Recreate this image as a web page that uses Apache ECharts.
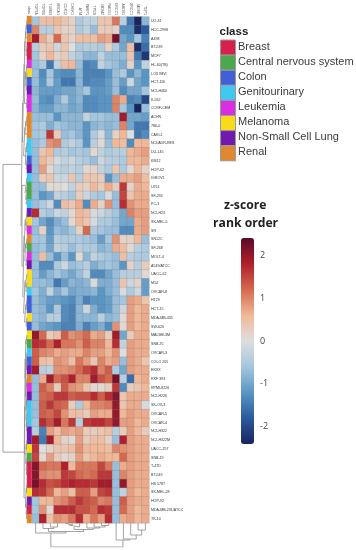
<!DOCTYPE html>
<html><head><meta charset="utf-8">
<style>html,body{margin:0;padding:0;background:#fff}#c{width:356px;height:550px}</style>
<script src="https://cdn.jsdelivr.net/npm/echarts@6/dist/echarts.min.js"></script></head>
<body><div id="c"></div>
<script>
const classNames = ['Breast','Central nervous system','Colon','Genitourinary','Leukemia','Melanoma','Non-Small Cell Lung','Renal'];
const classColors = ['#d8204c','#4ca84c','#4060d8','#40c8f0','#d830e0','#f8dc18','#7018b0','#e08830'];
const columns = ['TOP2A','TOP2B','TUBB3','BRCA1','CDK12','CHEK1','ATM','PARP1','TP53I','MDM2','RAD51','ERCC1','ABCB1','XRCC1','MGMT','TDP1'];
const cellLines = ['UO-31','HCC-2998','A498','BT-539','MCF7','HL-60(TB)','LOX IMVI','HCT-116','NCI-H460','K-562','CCRF-CEM','ACHN','786-0','CAKI-1','NCI/ADR-RES','DU-145','KM12','HOP-62','IGROV1','U251','SF-295','PC-3','NCI-H23','SK-MEL-5','SR','SN12C','SF-268','MOLT-4','A549/ATCC','UACC-62','M14','OVCAR-8','HT29','HCT-15','MDA-MB-435','SW-620','MALME-3M','SNB-75','OVCAR-3','COLO 205','EKVX','RXF 393','RPMI-8226','NCI-H226','SK-OV-3','OVCAR-5','OVCAR-4','NCI-H322','NCI-H322M','UACC-257','SNB-19','T-47D','BT-549','HS 578T','SK-MEL-28','HOP-92','MDA-MB-231/ATCC','TK-10'];
const rowClass = [7,2,7,0,0,4,5,2,6,4,4,7,7,7,3,3,2,6,3,1,1,3,6,5,4,7,1,4,6,5,5,3,2,2,5,2,5,1,3,2,6,7,4,6,3,3,3,6,6,5,1,0,0,0,5,6,0,7];
const zscores = [
[-.6,.5,.5,.6,.4,.2,-.5,-.3,-.3,.4,.4,1.1,-.4,-1.5,-2.4,-.8],
[1,-.4,-.4,.4,.2,.2,-.5,-.3,-.7,.3,.3,.2,-1.3,-1.3,-2.3,-1.8],
[1.9,.7,.3,1.2,.4,.2,.5,.5,.5,.8,.7,2.2,-1,-1.2,-.6,-1.4],
[-.4,.3,.4,-.2,.4,0,-.5,-.4,-.4,-.5,.2,-.5,-1,.5,-2.3,-1.6],
[-.6,.2,.6,.2,.3,-.3,-.5,-.8,-.8,-.3,-.7,-.7,-.7,.4,-1.5,-2.2],
[-.7,-.5,-1.5,-.3,.5,.6,-.7,-1.4,-1.3,-.3,-.6,-.7,-.9,.2,-1.2,-.3],
[-.7,-1.3,-.6,-1.2,-1.3,-1.3,-.8,-1.4,-1.4,-1.4,-1.2,-.7,-.5,-1.2,-.8,-1.2],
[-.7,-1.2,-.5,-1.1,-1.5,-1.5,-.8,-1.4,-1.3,-1.3,-1.1,-.7,-1.1,-.2,-1,-1.2],
[-.8,-1.1,-1.1,-1.1,-1,-1,-.8,-.6,-1.2,-1.2,-1.1,-.7,-1.3,-1,-1,-.6],
[-.7,-1.2,-1.3,-.9,-.5,-1,-.8,-1.3,-1.3,-1.2,-1.2,1,.7,-1.4,-1.3,-2],
[-.8,-1.1,-1.1,-.8,-.8,-1,-.9,-1.3,-1.3,-1.2,-1.2,1,-.6,-1.2,-2.4,-.7],
[-.7,-.7,-.7,-1.2,-.8,-.8,-.8,-.3,-.6,-.6,-.7,-.7,1.9,-1,-1,-1.1],
[-.6,-.5,-.9,-.6,-.7,-.8,-.8,-1.2,-.8,-.7,-.8,-.7,1,-1,-1.5,-1.5],
[-.6,-.5,1.6,.3,-.7,-.6,-.8,-1.2,-.5,-.1,-.8,.2,.6,0,-1.5,-1.3],
[-.7,-.5,.9,1,-.5,-.3,-.5,-1.2,-.4,.1,-.7,.6,.5,-1.3,.6,.6],
[-.7,.4,.6,-.5,-.4,-.6,-.5,-.6,.1,-.3,-.5,-.4,-.4,.6,.7,.8],
[-.7,.6,.3,-.1,-.3,-.2,-.4,-.5,-.7,-.2,-.4,-.4,-.5,.6,.6,.7],
[-.7,.8,.1,-.3,-.4,-.3,-.4,.1,.2,-.3,-.5,.4,-.5,.1,.6,.2],
[-.7,.3,.4,-.2,-.2,.4,-.4,.4,.4,.3,-1.2,-.7,.7,.7,.8,.5],
[-.7,-.7,.1,.1,0,-.3,.3,.2,.6,.3,.7,.3,1.6,.2,.7,.6],
[-.7,-1.2,-1,-.3,-.4,-.6,.3,-.2,-.5,-.6,-.1,-.7,1.5,.4,.7,.7],
[-.7,-.5,-.2,-1.3,.5,.4,.7,-1.3,.7,.2,.9,-.7,1.7,.9,.7,.7],
[1.7,-.4,-.6,-.2,-.3,.1,.6,.5,-.1,-.2,-.4,-.6,-1,1,.8,.8],
[-.6,-1,-1.3,-.9,-.7,.1,.6,.4,-.1,-.5,-.5,-.7,-1,-1,.7,.8],
[-.7,.2,-1.2,-.7,-.8,-.6,.2,1.2,-.5,-.6,-.7,-.7,-1.3,-1.3,.7,.8],
[-.6,-.6,-1.1,-.4,-.5,-.5,-.5,-.6,-.7,-1.1,-.6,.9,.2,.2,.6,-.7],
[-.7,-.6,-1,-.3,-.4,-.7,-.4,-.5,-.5,-.8,-.7,.7,.5,.1,-.4,-.5],
[-.7,.5,-.7,-1.2,-.7,-1.2,.1,-.8,-.3,-.5,-.6,-.7,.5,-.4,-.5,-.5],
[-.7,-1.3,-1.3,-.5,-.2,-.7,-.6,-.4,-.9,-.7,-.6,-.7,-1.2,.2,-.4,.3],
[-.7,-1.1,-.8,-.6,-.8,-1,-.7,-.3,-1.3,-1.3,-1,-.7,-.4,-.4,-.4,.1],
[-.7,-.7,-.8,-1.5,-1.1,-.8,-.9,-.8,-.1,-.9,-.9,-.7,.4,-.2,.2,-1.1],
[-.6,-.9,-.3,-.9,-.6,-1,-.9,-.9,-.8,-1.2,-.9,-.7,-.1,-.5,-.2,-1.1],
[-.7,-.9,-1.1,-1.1,-1.2,-1.3,-.9,-1.4,-1.2,-1.2,-1.1,-.7,-.6,.8,.7,.4],
[-.7,-.8,-1.2,-.5,-1.3,-1.4,-.8,-.2,-.9,-1.2,-1.1,-.7,-.2,.8,.6,.7],
[-.7,-.8,-.4,-.4,-1.3,-1.4,-.8,-.8,-.8,-.4,-.8,-.7,.1,.8,.6,.7],
[-.7,-1,-1.1,-1.2,-1.4,-1.4,-.9,-1.4,-1.1,-.9,-1.3,.9,.1,.8,.6,.7],
[2,1.2,.3,.5,1.3,.9,1,1.2,.7,.8,.3,1.9,-1,.3,.7,.7],
[1.7,1.6,1.2,1.8,1.1,1.1,.9,1.3,1,1,.6,1.7,-.3,.8,.7,.7],
[1.3,1,.9,.7,.8,.7,.7,1,.8,.8,.6,.9,0,.8,.7,.7],
[1.3,.5,.4,.9,.8,.5,1.1,.8,.4,1,.7,.8,-.7,.8,.7,.4],
[1.9,-.4,-.3,.9,.9,1,1.2,1.5,1.7,1,1.3,-.5,-1,.8,.7,.7],
[-.7,.7,1.9,1.2,1.4,1.8,1,1,1.9,1.4,1.2,2.2,-.4,-1.6,.6,.7],
[-.7,1.3,1,.3,1.3,.9,.8,.4,.1,.1,.3,1.6,-1.3,.3,.4,.6],
[-.7,1.2,1.3,1.6,1.6,1.3,1.4,1.4,1.7,1.3,1.7,2.1,.4,.7,.7,.7],
[-.7,1.3,1.6,1.3,1.2,.3,-.5,.6,1,1,1.1,2,.4,.7,.7,-.1],
[-.7,1.3,1.2,1.5,.9,.5,.5,.3,.8,.7,.7,2,.6,.8,.7,.7],
[-.6,1.7,1.4,1.9,1.1,1.6,-.4,1.6,1.7,1.7,1.5,2,.8,.8,.6,.7],
[-.4,-1.4,.8,.5,.8,.7,.8,.3,.3,.4,.5,-.4,.3,.8,.6,.3],
[1.9,-1.5,1.9,.6,.2,.1,.8,.3,.5,.5,.2,-.7,1.8,.8,.7,.7],
[1.6,0,.2,.4,.4,.5,.9,.6,.6,.6,.5,1,.9,.8,.7,.7],
[1.5,.1,.8,.3,.1,.2,.8,.4,.6,.7,.6,.6,1.2,.8,.7,.7],
[2.1,1.2,1.1,1.1,1.8,.6,1.1,1.1,1.1,1.5,1.1,-.7,.7,.8,.7,.7],
[2.1,1,.9,.9,1.6,1.5,1.2,1.1,1.2,1.6,1.6,-.7,1,.8,.7,.7],
[2.2,1.7,1.4,1.5,1.7,1.8,1.7,1.7,1.6,1.9,1.9,-.7,2,.8,.7,.7],
[1.7,1.6,1.2,.6,.8,.5,1.3,1.3,.8,1.5,1.6,-.7,-.3,.8,.6,.7],
[-.6,.6,.6,.9,1,1.3,1.6,1.4,1.3,1,1.1,-.7,1.3,.8,.7,.7],
[-.6,.9,.1,1.7,1.7,1.7,1.4,1.4,1.2,1.7,1.6,-.7,1.2,.8,.6,.7],
[-.7,1.8,.5,.9,.8,1.1,1.7,.7,1.1,.8,1.7,-.7,.7,.8,.6,.7]
];
// Dendrograms: [height, childA, childB]; a bare number is a leaf index.
const rowTree = [24,
 [6,
  [4.5,
   [3,[2.2,[1.4,[.8,0,1],2],[1.2,3,4]],[2.6,[1.6,5,[1.1,6,[.7,7,8]]],[.5,9,10]]],
   [3.4,[2.2,[1.2,11,12],13],[1.7,[1,14,15],[.9,16,17]]]],
  [5,
   [2,18,[1.4,19,[.9,20,21]]],
   [4.2,[3,[1.8,22,[1.2,23,24]],[2.2,[1.3,25,26],[1.1,27,28]]],[3.4,[2,29,[1.2,30,31]],[2.4,[1.2,32,33],[1,34,35]]]]]],
 [3,
  [2.4,[1.9,[1.2,36,37],[1.5,[1,38,[.6,39,40]],[1.2,[.7,41,42],[1,[.6,43,44],[.8,45,[.5,46,47]]]]]],[1.3,[.8,48,49],[1,50,[.6,51,52]]]],
  [1.6,[.8,53,54],[1,55,[.5,56,57]]]]];
const colTree = [24,
 [10,0,[8.5,[5.5,1,[4,2,3]],[6.5,[4,[2,4,5],6],[5,7,[4,8,[2.5,9,10]]]]]],
 [17,11,[16,12,[12,13,[7,14,15]]]]];

function segments(tree, horizontal){
  const out=[];
  function pt(h,p){return horizontal?[h,p]:[p,h];}
  function walk(n){
    if(typeof n==='number') return {p:n+.5,h:0};
    const a=walk(n[1]), b=walk(n[2]), h=n[0];
    out.push(pt(a.h,a.p),pt(h,a.p),pt(h,b.p),pt(b.h,b.p),[null,null]);
    return {p:(a.p+b.p)/2,h:h};
  }
  walk(tree);
  return out;
}

const heatData=[]; zscores.forEach((r,y)=>r.forEach((v,x)=>heatData.push([x,y,v])));
const classData=rowClass.map((c,y)=>[0,y,c]);

const L=32,T=16,W=117,H=507, dash='#8a8a8a';
const hidden={show:false};
const rowDash={color:dash,width:.8};

const legendG=[];
classNames.forEach((n,i)=>{
  const y=39.5+i*15.1;
  legendG.push({type:'rect',left:220,top:y,shape:{width:15,height:15.1},style:{fill:classColors[i],stroke:'#9a9a9a',lineWidth:1}});
  legendG.push({type:'text',left:238,top:y+1.5,style:{text:n,font:'11px "Liberation Sans"',fill:'#3a3a3a'}});
});
legendG.push({type:'text',left:219.5,top:26,style:{text:'class',font:'bold 11.5px "Liberation Sans"',fill:'#222'}});
legendG.push({type:'text',left:224,top:200,style:{text:'z-score',font:'bold 12.2px "Open Sans"',fill:'#222'}});
legendG.push({type:'text',left:213,top:218,style:{text:'rank order',font:'bold 12.2px "Open Sans"',fill:'#222'}});

const option={
  animation:false,
  graphic:legendG,
  grid:[
    {left:L,top:T,width:W,height:H},
    {left:27,top:T,width:4.5,height:H},
    {left:3,top:T,width:24,height:H},
    {left:L,top:T+H,width:W,height:24},
    {left:254,top:238,width:1,height:206}
  ],
  xAxis:[
    {type:'category',gridIndex:0,data:columns,position:'top',axisLine:hidden,axisTick:hidden,splitLine:hidden,
      axisLabel:{rotate:90,fontSize:3.5,color:'#555',margin:2,interval:0,fontFamily:'Liberation Sans'}},
    {type:'category',gridIndex:1,data:['class'],position:'top',axisLine:hidden,axisTick:hidden,
      axisLabel:{rotate:90,fontSize:3.5,color:'#555',margin:2,fontFamily:'Liberation Sans'}},
    {type:'value',gridIndex:2,min:0,max:24,inverse:true,show:false},
    {type:'value',gridIndex:3,min:0,max:16,show:false},
    {type:'value',gridIndex:4,show:false,min:0,max:1}
  ],
  yAxis:[
    {type:'category',gridIndex:0,data:cellLines,inverse:true,position:'right',axisLine:hidden,axisTick:hidden,splitLine:hidden,
      axisLabel:{fontSize:3.6,color:'#333',margin:2,interval:0,fontFamily:'Liberation Sans'}},
    {type:'category',gridIndex:1,data:cellLines,inverse:true,show:false},
    {type:'value',gridIndex:2,min:0,max:58,inverse:true,show:false},
    {type:'value',gridIndex:3,min:0,max:24,inverse:true,show:false},
    {type:'value',gridIndex:4,min:-2.4,max:2.4,position:'right',axisLine:hidden,axisTick:hidden,splitLine:hidden,
      axisLabel:{customValues:[-2,-1,0,1,2],fontSize:9,color:'#444',margin:5,fontFamily:'Open Sans'}}
  ],
  visualMap:[
    {type:'continuous',seriesIndex:0,dimension:2,min:-2.4,max:2.4,left:241,top:238,itemWidth:13,itemHeight:206,
      calculable:false,text:['',''],padding:0,showLabel:false,
      inRange:{color:['#1a2560','#2a5a9e','#5a96c4','#a4c6df','#dedede','#f0b898','#d4694f','#b0202c','#5a0a28']}},
    {type:'piecewise',show:false,seriesIndex:1,dimension:2,
      pieces:classColors.map((c,i)=>({value:i,color:c}))}
  ],
  series:[
    {name:'z-score',type:'heatmap',xAxisIndex:0,yAxisIndex:0,data:heatData,progressive:0,
      itemStyle:{borderColor:'rgba(120,120,120,.45)',borderWidth:.5}},
    {name:'class',type:'heatmap',xAxisIndex:1,yAxisIndex:1,data:classData,progressive:0},
    {name:'row dendrogram',type:'line',xAxisIndex:2,yAxisIndex:2,data:segments(rowTree,true),showSymbol:false,silent:true,connectNulls:false,lineStyle:rowDash},
    {name:'column dendrogram',type:'line',xAxisIndex:3,yAxisIndex:3,data:segments(colTree,false),showSymbol:false,silent:true,connectNulls:false,lineStyle:rowDash}
  ]
};
const chart=echarts.init(document.getElementById('c'),null,{renderer:'canvas'});
chart.setOption(option);
</script></body></html>
